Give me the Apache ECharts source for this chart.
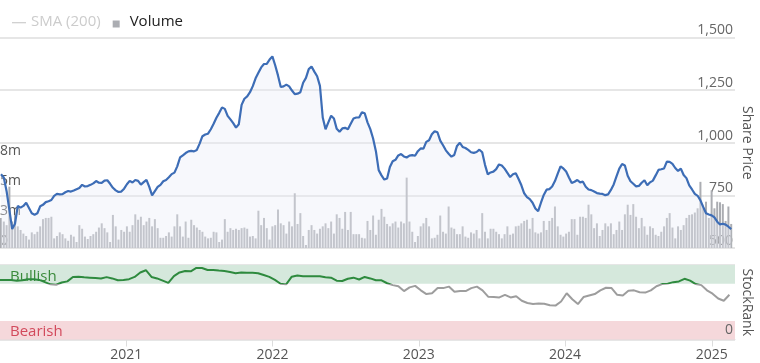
<!DOCTYPE html>
<html><head><meta charset="utf-8">
<script src="https://cdn.jsdelivr.net/npm/echarts@6/dist/echarts.min.js"></script>
<style>html,body{margin:0;padding:0;background:#fff;}#chart{width:760px;height:363px;}</style>
</head><body><div id="chart"></div>
<script>
// ---- data ----
const legendNames = ['SMA (200)', 'Volume'];
const axisStart = '2020-02-21';
const axisEnd = '2025-02-28';
const priceStart = '2020-02-21';   // weekly closes
const price = [
850,835,770,680,590,615,700,692,700,715,
690,665,658,665,698,705,718,722,728,748,
757,755,756,765,771,768,773,779,785,800,
792,794,800,807,818,810,809,820,822,805,
786,774,766,768,782,803,819,811,823,819,
801,813,824,790,750,770,790,800,817,823,
836,851,858,888,930,940,951,959,961,959,
966,996,1031,1039,1043,1064,1090,1119,1142,1168,
1161,1128,1111,1093,1072,1088,1180,1209,1220,1240,
1269,1306,1332,1358,1374,1375,1395,1410,1368,1320,
1265,1268,1276,1268,1248,1231,1233,1240,1285,1308,
1350,1362,1338,1316,1270,1120,1064,1097,1128,1115,
1066,1052,1068,1071,1064,1090,1115,1120,1120,1145,
1140,1097,1065,1020,960,870,845,825,830,885,
912,919,940,946,935,930,939,941,938,960,
973,972,1004,1012,1040,1055,1050,1010,988,964,
948,934,942,985,1000,980,975,966,955,952,
956,967,955,895,850,859,863,875,897,892,
877,857,837,850,855,828,798,760,742,732,
715,688,675,715,752,777,780,792,818,853,
888,878,863,835,809,815,823,812,815,791,
778,775,768,761,758,757,751,755,776,802,
840,877,899,892,843,817,805,793,795,810,
822,798,812,820,845,871,874,878,910,909,
900,880,866,877,847,832,797,778,757,748,
726,695,665,659,655,645,625,612,615,611,
601,590
];
const volumeM = [   // weekly volume, millions
2.5,2.2,1.9,5.1,2.2,2.75,1.8,1.5,1.2,1.0,
0.7,1.3,1.15,1.35,1.8,2.4,2.5,2.5,2.6,0.8,
1.0,1.3,1.15,0.8,0.6,1.1,0.95,0.5,1.9,1.6,
0.95,0.75,1.0,1.15,1.35,1.7,2.05,1.65,1.3,0.5,
2.75,1.8,0.7,1.5,1.35,1.8,1.35,1.9,2.8,2.35,
2.6,1.9,2.2,2.5,1.8,2.4,1.65,0.85,0.85,1.0,
1.3,0.95,1.8,2.8,1.8,0.95,2.2,0.85,2.35,1.9,
1.7,1.5,1.35,0.95,0.8,0.85,1.35,1.3,0.5,0.7,
2.4,1.35,1.65,1.5,1.6,1.5,1.65,1.7,1.6,0.95,
1.0,0.8,3.1,1.9,2.5,1.65,0.7,1.8,1.9,3.2,
2.05,1.9,1.2,2.2,1.8,4.55,2.0,2.9,1.0,0.25,
1.5,1.9,1.5,1.2,1.6,1.8,2.05,1.65,2.2,1.2,
2.8,2.5,1.6,3.0,1.5,3.0,1.15,1.15,1.15,0.85,
0.8,2.25,1.5,2.7,1.1,2.35,3.25,2.6,2.0,1.8,
2.05,2.2,1.7,2.2,2.05,5.85,2.2,1.35,0.5,1.0,
1.8,2.05,2.5,1.8,0.8,0.85,1.1,2.7,1.35,1.2,
3.45,1.7,1.6,1.15,1.15,1.8,0.95,0.85,1.3,1.2,
1.5,0.8,2.9,1.35,0.8,1.6,1.6,1.35,1.15,0.8,
1.15,1.8,1.1,1.2,1.8,1.85,2.05,2.25,2.35,1.6,
2.5,1.3,1.2,1.3,2.25,1.5,2.25,2.5,3.45,1.8,
1.1,0.95,1.2,1.35,2.4,2.4,1.1,2.6,2.6,2.5,
3.6,2.8,1.65,2.05,1.0,1.5,2.05,1.8,2.05,1.15,
1.5,2.2,1.5,2.8,3.6,2.75,3.65,2.6,1.65,2.5,
1.8,1.1,1.8,1.65,1.1,1.0,1.35,1.8,2.5,2.9,
1.7,0.8,1.8,1.5,1.9,2.5,2.75,2.8,2.95,3.3,
5.5,3.3,3.85,2.5,4.8,3.3,3.85,3.8,3.65,2.25,
3.45,2.0
];
const rankStart = '2020-02-21';   // fortnightly StockRank
const stockRank = [
80,80,80,79,79.5,81,81,80,77,74,
73.5,76.5,78,84,84.3,83.5,83,82.5,82,83.7,
82,79.5,80,81,84,90,93,84,82,79,
76,85,90,92,91.5,96,96,93.3,93.3,92.5,
91.8,90.5,89,90,89.5,89.5,89,86.5,84,80,
74.8,74,84.3,85.8,85,85,85,85,83.5,83,
79,78.5,81.5,83,80.5,84,82,79.5,79.5,75.5,
73,71.5,65,70,72,66,61,62,69,69,
71,64,65,65,69,71,66,57.5,57,56.5,
60,56.5,58,52,49,47.8,48.3,48,46,45.5,
51,62,54,47.5,57,59,61,66,69.5,69,
60,59,65.5,66,63.5,63,66,71.5,74.4,75,
77,78,81.5,79,74.4,73,66,61.5,55,52,
60
];
const priceTicks = {min: 500, max: 1500, step: 250};
const volumeTicks = {min: 0, max: 17.5, step: 2.5, lastShown: 7.5};
const rankTicks = {min: 0, max: 100, step: 100};
const bullishFrom = 75;
const bands = [
  {name: 'Bullish', from: 75, to: 100},
  {name: 'Bearish', from: 0, to: 25}
];

// ---- helpers ----
function seq(start, n, stepDays) {
  const [y, m, d] = start.split('-').map(Number);
  return Array.from({length: n}, (_, i) => new Date(y, m - 1, d + i * stepDays).getTime());
}
function toDate(s) { const [y, m, d] = s.split('-').map(Number); return new Date(y, m - 1, d).getTime(); }
const priceDates = seq(priceStart, price.length, 7);
const rankDates = seq(rankStart, stockRank.length, 14);
const FONT = 'Open Sans';
const GREEN = '#2e8a3e', GRAY = '#9d9d9d';
const xMin = toDate(axisStart), xMax = toDate(axisEnd);

const chart = echarts.init(document.getElementById('chart'), null, {renderer: 'canvas'});
chart.setOption({
  animation: false,
  textStyle: {fontFamily: FONT},
  legend: {
    left: 7, top: 9, itemWidth: 14, itemHeight: 12, itemGap: 10,
    inactiveColor: '#cccccc',
    textStyle: {fontSize: 15, color: '#222', fontFamily: FONT},
    selected: {[legendNames[0]]: false},
    data: [
      {name: legendNames[0], icon: 'path://M0,0M0,6.6H14V7.8H0ZM14,12'},
      {name: legendNames[1], icon: 'path://M0,0M2,5H9V12H2ZM14,12'}
    ]
  },
  grid: [
    {left: 0, right: 25, top: 37.5, bottom: 115, outerBoundsMode: 'none', containLabel: false},
    {left: 0, right: 25, top: 265, bottom: 23.5, outerBoundsMode: 'none', containLabel: false}
  ],
  xAxis: [
    {type: 'time', gridIndex: 0, min: xMin, max: xMax, show: false},
    {type: 'time', gridIndex: 1, min: xMin, max: xMax,
     minInterval: 365 * 86400000, maxInterval: 366 * 86400000,
     axisLine: {show: true, lineStyle: {color: '#dddddd', width: 1}},
     axisTick: {show: true, length: 7, lineStyle: {color: '#dddddd'}},
     splitLine: {show: false},
     axisLabel: {formatter: '{yyyy}', color: '#555', fontSize: 14, margin: 9, fontFamily: FONT,
                 showMinLabel: false, showMaxLabel: false}}
  ],
  yAxis: [
    {type: 'value', gridIndex: 0, position: 'right', min: priceTicks.min, max: priceTicks.max, interval: priceTicks.step,
     name: 'Share Price', nameLocation: 'middle', nameRotate: -90, nameGap: 5, nameMoveOverlap: false,
     nameTextStyle: {color: '#555', fontSize: 14, fontFamily: FONT},
     axisLine: {show: false}, axisTick: {show: false},
     splitLine: {show: true, lineStyle: {color: '#e6e6e6', width: 2}},
     axisLabel: {inside: true, margin: 2, color: '#666', fontSize: 14, verticalAlign: 'bottom', lineHeight: 14,
                 formatter: v => Number(v).toLocaleString('en-US')}},
    {type: 'value', gridIndex: 0, position: 'left', min: volumeTicks.min, max: volumeTicks.max, interval: volumeTicks.step,
     axisLine: {show: false}, axisTick: {show: false}, splitLine: {show: false},
     axisLabel: {inside: true, margin: 0, color: '#555', fontSize: 14, verticalAlign: 'bottom', lineHeight: 14,
                 formatter: v => Number(v) > volumeTicks.lastShown ? '' : (Number(v) === 0 ? '0' : Math.round(Number(v)) + 'm')}},
    {type: 'value', gridIndex: 1, position: 'right', min: rankTicks.min, max: rankTicks.max, interval: rankTicks.step,
     name: 'StockRank', nameLocation: 'middle', nameRotate: -90, nameGap: 5, nameMoveOverlap: false,
     nameTextStyle: {color: '#555', fontSize: 14, fontFamily: FONT},
     axisLine: {show: false}, axisTick: {show: false},
     splitLine: {show: true, lineStyle: {color: '#e6e6e6', width: 2}},
     axisLabel: {show: false}}
  ],
  series: [
    {name: legendNames[1], type: 'bar', xAxisIndex: 0, yAxisIndex: 1, barWidth: 2,
     itemStyle: {color: '#abadb2'}, silent: true,
     data: priceDates.map((t, i) => [t, volumeM[i]])},
    {name: 'Share Price', type: 'line', xAxisIndex: 0, yAxisIndex: 0, symbol: 'none',
     lineStyle: {color: '#3d6db6', width: 2.2}, itemStyle: {color: '#3d6db6'},
     areaStyle: {color: 'rgba(233,237,248,0.55)'}, silent: true,
     data: priceDates.map((t, i) => [t, price[i]])},
    {name: legendNames[0], type: 'line', xAxisIndex: 0, yAxisIndex: 0, symbol: 'none',
     itemStyle: {color: '#999'}, data: []},
    {name: 'StockRank', type: 'line', xAxisIndex: 1, yAxisIndex: 2, symbol: 'none', z: 3,
     lineStyle: {width: 2, color: GRAY}, itemStyle: {color: GRAY}, silent: true,
     data: rankDates.map((t, i) => [t, stockRank[i]]),
     markLine: {
       silent: true, symbol: ['none', 'none'], clip: false,
       lineStyle: {color: 'rgba(0,0,0,0)', width: 0, type: 'solid'},
       label: {show: true, position: 'insideEndTop', distance: [2, 2], formatter: String(rankTicks.min),
               color: '#666', fontSize: 14, fontFamily: FONT},
       data: [{yAxis: rankTicks.min}]
     },
     markArea: {
       silent: true,
       data: [
         [{yAxis: bands[0].from, name: bands[0].name, itemStyle: {color: '#d5e8dc'},
           label: {show: true, position: 'insideLeft', distance: 10, offset: [0, 2], color: '#3a8a3a', fontSize: 15, fontFamily: FONT}},
          {yAxis: bands[0].to}],
         [{yAxis: bands[1].from, name: bands[1].name, itemStyle: {color: '#f5d8db'},
           label: {show: true, position: 'insideLeft', distance: 10, offset: [0, 2], color: '#d24a5c', fontSize: 15, fontFamily: FONT}},
          {yAxis: bands[1].to}]
       ]
     }}
  ]
});

// colour the StockRank line green above the bullish threshold (pixel position from the axis scale)
const H = chart.getHeight();
const yThr = chart.convertToPixel({yAxisIndex: 2}, bullishFrom);
const t = Math.min(1, Math.max(0, yThr / H));
chart.setOption({
  series: [{}, {}, {}, {
    lineStyle: {color: new echarts.graphic.LinearGradient(0, 0, 0, H, [
      {offset: 0, color: GREEN}, {offset: t, color: GREEN},
      {offset: t, color: GRAY}, {offset: 1, color: GRAY}], true)}
  }]
});
</script></body></html>
